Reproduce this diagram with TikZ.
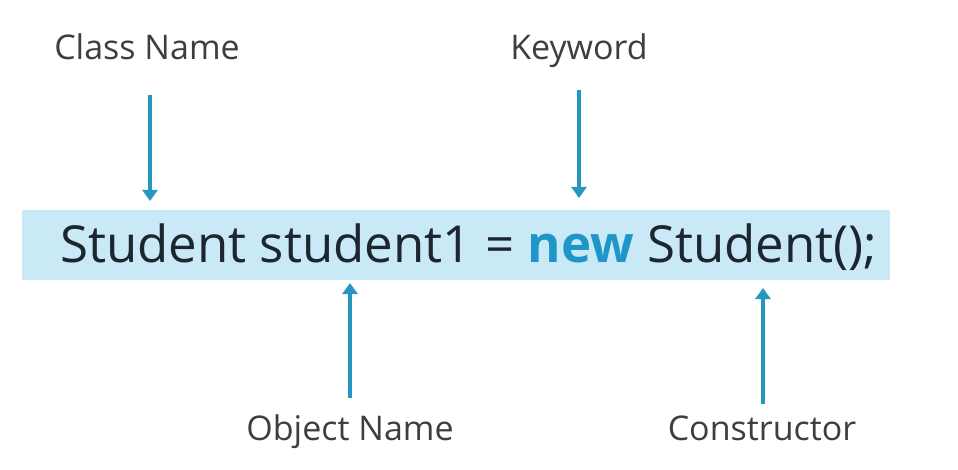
\documentclass[tikz,border=0pt]{standalone}
\usepackage{fontspec}
\setmainfont{Open Sans}
\usetikzlibrary{arrows.meta}
\definecolor{barblue}{RGB}{201,233,246}
\definecolor{arrowblue}{RGB}{38,152,192}
\definecolor{kwblue}{RGB}{30,150,200}
\definecolor{codetext}{RGB}{28,38,48}
\definecolor{labeltext}{RGB}{62,62,62}
\tikzset{
  label/.style={font=\fontsize{34}{40}\selectfont, text=labeltext, inner sep=0pt},
  pointer/.style={arrowblue, line width=3.2pt, -{Triangle[width=15pt,length=11pt]}}
}
\begin{document}
\begin{tikzpicture}[x=1pt, y=-1pt]
    \useasboundingbox (0,0) rectangle (958,470);

    % Code line
    \node[fill=barblue, minimum width=868pt, minimum height=70pt, inner sep=0pt, anchor=north west] (bar) at (22,210) {};
    \node[anchor=base west, inner sep=0pt, text=codetext, font=\fontsize{51}{60}\selectfont] (code) at (60,262)
        {Student student1 = {\bfseries\color{kwblue}new} Student();};

    % Labels
    \node[label, anchor=base] (cls) at (147,60) {Class Name};
    \node[label, anchor=base] (kw) at (579,60) {Keyword};
    \node[label, anchor=base] (obj) at (350,440) {Object Name};
    \node[label, anchor=base] (ctor) at (762,440) {Constructor};

    % Arrow ends
    \coordinate (clsTop) at (150,95);
    \coordinate (clsTip) at (150,201);
    \coordinate (kwTop) at (579,90);
    \coordinate (kwTip) at (579,198);
    \coordinate (objBot) at (350,398);
    \coordinate (objTip) at (350,283);
    \coordinate (ctorBot) at (763,404);
    \coordinate (ctorTip) at (763,288);

    % Pointers
    \draw[pointer] (clsTop) -- (clsTip);
    \draw[pointer] (kwTop) -- (kwTip);
    \draw[pointer] (objBot) -- (objTip);
    \draw[pointer] (ctorBot) -- (ctorTip);
\end{tikzpicture}
\end{document}
